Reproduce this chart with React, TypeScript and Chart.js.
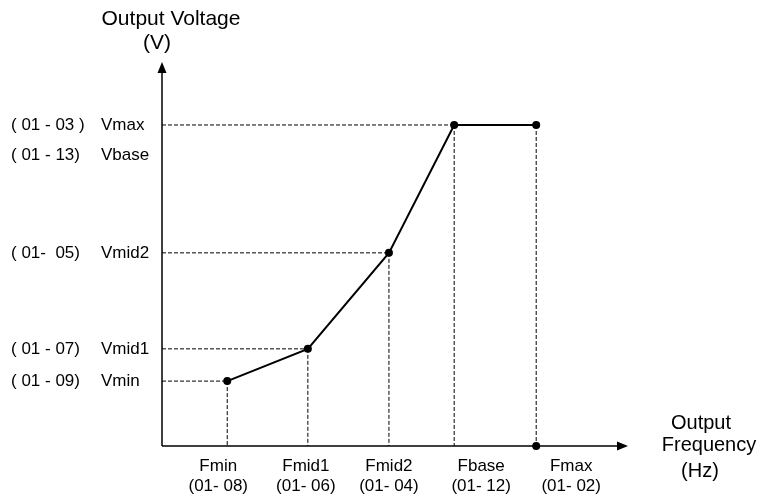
import React, { useEffect, useRef } from "react";
import { Chart, registerables } from "chart.js";
Chart.register(...registerables);

// Frequency break points (x) and the matching voltages (y), in diagram units (0..100 = axis length)
const freqNames = ["Fmin", "Fmid1", "Fmid2", "Fbase", "Fmax"];
const freqCodes = ["(01- 08)", "(01- 06)", "(01- 04)", "(01- 12)", "(01- 02)"];
const freqValues = [14, 31.3, 48.7, 62.7, 80.3];
const voltValues = [16.9, 25.3, 50.3, 83.6, 83.6];

// Voltage tick labels on the left
const voltTickCodes = ["( 01 - 03 )", "( 01 - 13)", "( 01-  05)", "( 01 - 07)", "( 01 - 09)"];
const voltTickNames = ["Vmax", "Vbase", "Vmid2", "Vmid1", "Vmin"];
const voltTickValues = [83.6, 75.8, 50.3, 25.3, 16.9];

// Marker where Fmax meets the frequency axis
const fmaxAxisPoint = [{ x: 80.3, y: 0 }];

const yTitle = ["Output Voltage", "(V)"];
const xTitle = ["Output", "Frequency", "(Hz)"];

const FONT = "'Liberation Sans', Arial, sans-serif";
// horizontal nudges (px) of bottom labels relative to their break point
const freqLabelShift = [-9, -2, 0, 27, 35];

const diagramPlugin = {
  id: "vfDiagram",
  beforeDatasetsDraw(chart: any) {
    const { ctx, scales } = chart;
    const x = scales.x, y = scales.y;
    const x0 = x.getPixelForValue(0);
    const y0 = y.getPixelForValue(0);
    const xEnd = x.getPixelForValue(100);
    const yEnd = y.getPixelForValue(100);
    ctx.save();
    ctx.strokeStyle = "#000";
    ctx.lineWidth = 1;
    ctx.setLineDash([4, 2]);
    freqValues.forEach((f, i) => {
      const px = x.getPixelForValue(f);
      const py = y.getPixelForValue(voltValues[i]);
      ctx.beginPath();
      if (i < freqValues.length - 1) {
        ctx.moveTo(x0, py);
        ctx.lineTo(px, py);
      }
      ctx.moveTo(px, py);
      ctx.lineTo(px, y0);
      ctx.stroke();
    });
    ctx.setLineDash([]);
    ctx.lineWidth = 1.5;
    ctx.beginPath();
    ctx.moveTo(x0, y0);
    ctx.lineTo(x0, yEnd + 8);
    ctx.moveTo(x0, y0);
    ctx.lineTo(xEnd - 8, y0);
    ctx.stroke();
    ctx.fillStyle = "#000";
    ctx.beginPath();
    ctx.moveTo(x0, yEnd);
    ctx.lineTo(x0 - 4.5, yEnd + 11);
    ctx.lineTo(x0 + 4.5, yEnd + 11);
    ctx.closePath();
    ctx.fill();
    ctx.beginPath();
    ctx.moveTo(xEnd, y0);
    ctx.lineTo(xEnd - 11, y0 - 4.5);
    ctx.lineTo(xEnd - 11, y0 + 4.5);
    ctx.closePath();
    ctx.fill();
    ctx.restore();
  },
  afterDraw(chart: any) {
    const { ctx, scales } = chart;
    const x = scales.x, y = scales.y;
    const x0 = x.getPixelForValue(0);
    const y0 = y.getPixelForValue(0);
    const xEnd = x.getPixelForValue(100);
    const yEnd = y.getPixelForValue(100);
    ctx.save();
    ctx.fillStyle = "#000";
    ctx.textBaseline = "middle";
    // y title
    ctx.font = `21px ${FONT}`;
    ctx.textAlign = "center";
    ctx.fillText(yTitle[0], x0 + 9, yEnd - 43);
    ctx.fillText(yTitle[1], x0 - 5, yEnd - 19);
    // left tick labels
    ctx.font = `17px ${FONT}`;
    ctx.textAlign = "left";
    voltTickValues.forEach((v, i) => {
      const py = y.getPixelForValue(v);
      ctx.fillText(voltTickCodes[i], 11, py);
      ctx.fillText(voltTickNames[i], 101, py);
    });
    // bottom labels
    ctx.textAlign = "center";
    freqValues.forEach((f, i) => {
      const px = x.getPixelForValue(f) + freqLabelShift[i];
      ctx.fillText(freqNames[i], px, y0 + 20);
      ctx.fillText(freqCodes[i], px, y0 + 40);
    });
    // x title
    ctx.font = `20px ${FONT}`;
    ctx.fillText(xTitle[0], xEnd + 73, y0 - 23);
    ctx.fillText(xTitle[1], xEnd + 81, y0 - 1);
    ctx.fillText(xTitle[2], xEnd + 72, y0 + 25);
    ctx.restore();
  },
};

export default function App() {
  const ref = useRef<HTMLCanvasElement>(null);
  useEffect(() => {
    if (!ref.current) return;
    const chart = new Chart(ref.current, {
      type: "scatter",
      data: {
        datasets: [
          {
            data: freqValues.map((f, i) => ({ x: f, y: voltValues[i] })),
            showLine: true,
            borderColor: "#000",
            backgroundColor: "#000",
            borderWidth: 2,
            pointRadius: 4,
            pointBackgroundColor: "#000",
            pointBorderWidth: 0,
            clip: false,
          },
          {
            data: fmaxAxisPoint,
            showLine: false,
            backgroundColor: "#000",
            pointRadius: 4,
            pointBorderWidth: 0,
            clip: false,
          },
        ],
      },
      options: {
        responsive: false,
        animation: false,
        layout: { padding: { left: 162, right: 135, top: 62, bottom: 52 } },
        plugins: { legend: { display: false }, tooltip: { enabled: false } },
        scales: {
          x: { type: "linear", min: 0, max: 100, display: false },
          y: { type: "linear", min: 0, max: 100, display: false },
        },
      },
      plugins: [diagramPlugin],
    });
    return () => chart.destroy();
  }, []);
  return (
    <canvas
      ref={ref}
      width={763}
      height={498}
      style={{ position: "absolute", left: 0, top: 0, width: 763, height: 498 }}
    />
  );
}
